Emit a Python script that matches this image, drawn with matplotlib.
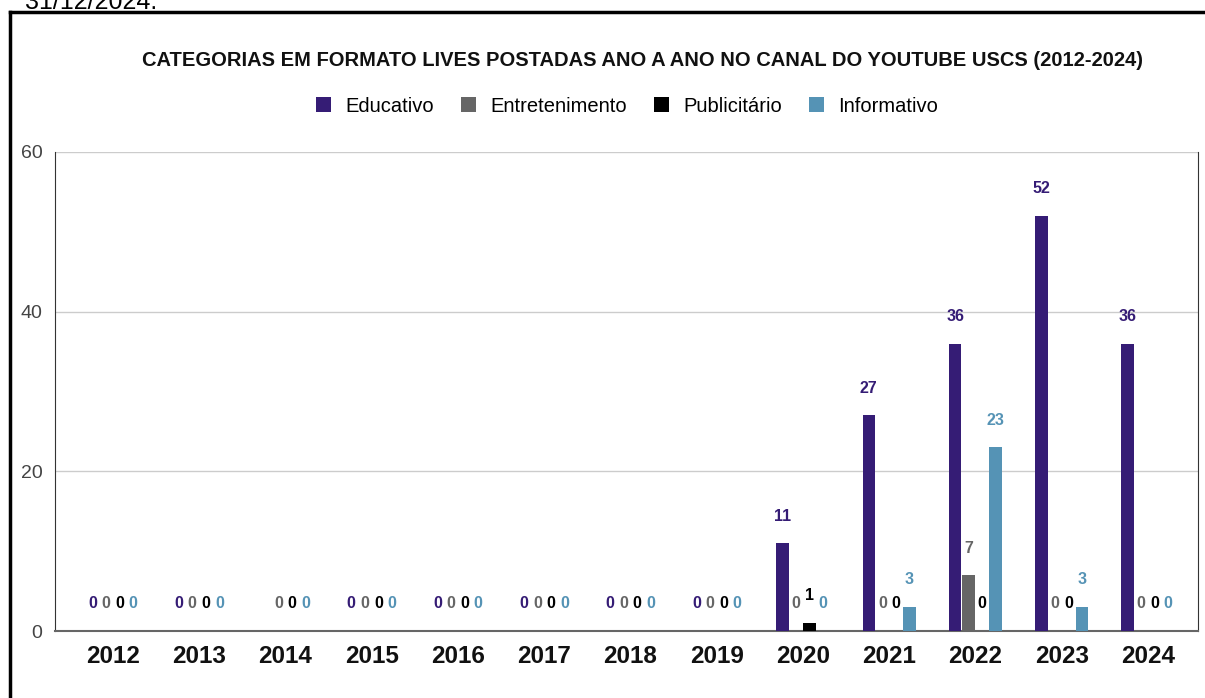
import numpy as np
import matplotlib
matplotlib.use("Agg")
import matplotlib.pyplot as plt
from matplotlib.lines import Line2D

plt.rcParams['font.family'] = ['Liberation Sans', 'DejaVu Sans']

years = ['2012', '2013', '2014', '2015', '2016', '2017', '2018',
         '2019', '2020', '2021', '2022', '2023', '2024']
educativo = [0, 0, None, 0, 0, 0, 0, 0, 11, 27, 36, 52, 36]
entretenimento = [0, 0, 0, 0, 0, 0, 0, 0, 0, 0, 7, 0, 0]
publicitario = [0, 0, 0, 0, 0, 0, 0, 0, 1, 0, 0, 0, 0]
informativo = [0, 0, 0, 0, 0, 0, 0, 0, 0, 3, 23, 3, 0]

series_names = ['Educativo', 'Entretenimento', 'Publicitário', 'Informativo']
colors = ['#351c75', '#666666', '#000000', '#5593b5']
title = 'CATEGORIAS EM FORMATO LIVES POSTADAS ANO A ANO NO CANAL DO YOUTUBE USCS (2012-2024)'

fig = plt.figure(figsize=(12.05, 6.98), dpi=100)
ax = fig.add_axes([55 / 1205, 1 - 631 / 698, (1198 - 55) / 1205, (631 - 152) / 698])

x = np.arange(len(years))
step = 0.157
width = 0.147
all_series = [educativo, entretenimento, publicitario, informativo]
for i, (vals, name, col) in enumerate(zip(all_series, series_names, colors)):
    pos = x + (i - 1.5) * step
    h = [np.nan if v is None else v for v in vals]
    ax.bar(pos, h, width=width, color=col, label=name, zorder=3)
    for p, v in zip(pos, vals):
        if v is None:
            continue
        ax.annotate(str(v), (p, v), xytext=(0, 19.5), textcoords='offset points',
                    ha='center', va='center', fontsize=11.5, fontweight='bold',
                    color=col, zorder=4)

ax.set_xlim(-0.67, len(years) - 1 + 0.58)
ax.set_ylim(0, 60)
ax.set_yticks([0, 20, 40, 60])
ax.yaxis.grid(True, color='#cccccc', linewidth=1, zorder=0)
ax.set_xticks(x)
ax.set_xticklabels(years, fontsize=17.5, fontweight='bold', color='#111111')
ax.tick_params(axis='y', labelsize=14, colors='#444444', length=0, pad=9)
ax.tick_params(axis='x', length=0, pad=10)
ax.spines['top'].set_visible(False)
ax.spines['left'].set_color('#333333')
ax.spines['right'].set_color('#333333')
ax.spines['bottom'].set_color('#666666')
ax.spines['bottom'].set_linewidth(1.5)

fig.text(643 / 1205, 1 - 60 / 698, title, ha='center', va='center',
         fontsize=14.5, fontweight='bold', color='#111111')

fig.legend(loc='center', bbox_to_anchor=(627 / 1205, 1 - 106 / 698), ncol=4,
           frameon=False, fontsize=14.5, handlelength=0.75, handleheight=0.75,
           columnspacing=1.35, handletextpad=0.7)

# cut-off note and outer frame from the source page
fig.text(25 / 1205, 1 - 2 / 698, '31/12/2024.', ha='left', va='center', fontsize=18)
fig.add_artist(Line2D([10 / 1205, 10 / 1205], [0, 1 - 12 / 698], color='black', linewidth=2.5))
fig.add_artist(Line2D([10 / 1205, 1], [1 - 12 / 698, 1 - 12 / 698], color='black', linewidth=2.5))

fig.savefig('out.png', dpi=100)
